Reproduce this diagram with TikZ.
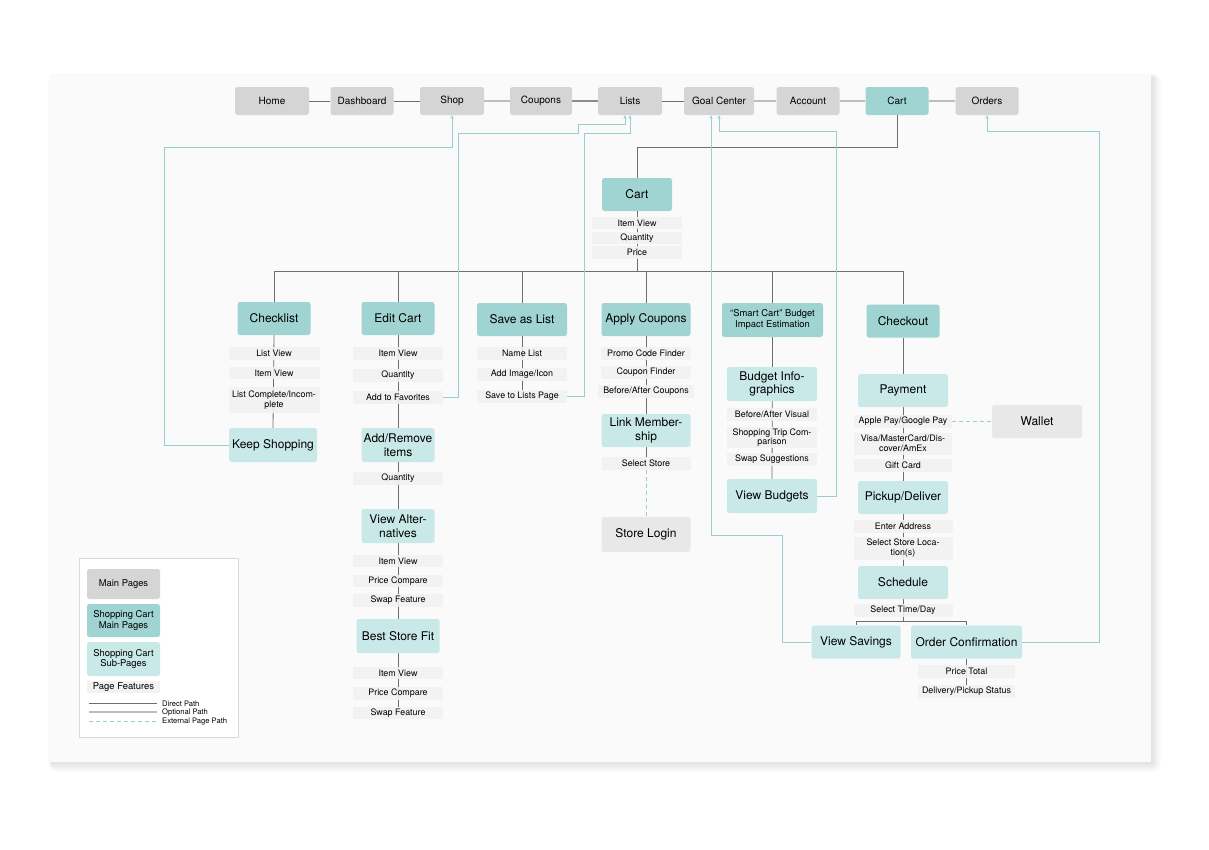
\documentclass[tikz,border=0pt]{standalone}
\usepackage{fontspec}
\setmainfont{TeX Gyre Heros}
\usetikzlibrary{arrows.meta}
\definecolor{tealA}{HTML}{9FD4D2}
\definecolor{tealB}{HTML}{C8E9E8}
\definecolor{navgray}{HTML}{D5D5D5}
\definecolor{extgray}{HTML}{E8E8E8}
\definecolor{featgray}{HTML}{F1F1F1}
\definecolor{dirc}{HTML}{6E6E6E}
\definecolor{optc}{HTML}{BDBDBD}
\definecolor{linkc}{HTML}{98CECE}
\definecolor{cardc}{HTML}{FAFAFA}
\newcommand\fnav{\fontsize{10}{11}\selectfont}
\newcommand\fmainpg{\fontsize{12}{13.5}\selectfont}
\newcommand\ffeat{\fontsize{8.9}{9.6}\selectfont}
\newcommand\fsmallpg{\fontsize{9.4}{11}\selectfont}
\newcommand\flegend{\fontsize{9.4}{10.5}\selectfont}
\newcommand\ftinylbl{\fontsize{7.6}{8}\selectfont}
\pgfdeclarelayer{background}
\pgfsetlayers{background,main}
\tikzset{
  pgbox/.style={rounded corners=2.5pt, inner sep=1pt, align=center},
  nav/.style={pgbox, fill=navgray, minimum height=28, font=\fnav},
  navcartbox/.style={pgbox, fill=tealA, minimum height=28, font=\fnav},
  mainpg/.style={pgbox, fill=tealA, font=\fmainpg},
  subpg/.style={pgbox, fill=tealB, font=\fmainpg},
  extpg/.style={pgbox, fill=extgray, font=\fmainpg},
  feat/.style={fill=featgray, fill opacity=0.88, text opacity=1, inner sep=0.5pt, align=center, font=\ffeat, minimum height=12.5},
  direct/.style={draw=dirc, line width=0.8pt},
  optional/.style={draw=optc, line width=1.6pt},
  extlink/.style={draw=linkc, line width=0.8pt, -{Stealth[length=3.6pt,width=3pt]}},
  extdash/.style={draw=linkc, line width=0.8pt, dash pattern=on 4pt off 3pt},
}
\begin{document}
\begin{tikzpicture}[x=1pt,y=-1pt]
\useasboundingbox (0,0) rectangle (1209,849);
% ---------- nav bar ----------
\node[nav, minimum width=74] (home) at (272,101) {Home};
\node[nav, minimum width=63] (dash) at (362,101) {Dashboard};
\node[nav, minimum width=64] (shop) at (452,101) {Shop};
\node[nav, minimum width=62] (coupons) at (541,101) {Coupons};
\node[nav, minimum width=64] (lists) at (630,101) {Lists};
\node[nav, minimum width=70] (goal) at (719,101) {Goal Center};
\node[nav, minimum width=63] (account) at (808,101) {Account};
\node[navcartbox, minimum width=63] (navcart) at (897,101) {Cart};
\node[nav, minimum width=63] (orders) at (987,101) {Orders};
% ---------- cart ----------
\node[mainpg, minimum width=70, minimum height=33] (cart) at (637,194.5) {Cart};
\node[feat, minimum width=90] (cf1) at (637,223) {Item View};
\node[feat, minimum width=90] (cf2) at (637,238) {Quantity};
\node[feat, minimum width=90] (cf3) at (637,252.5) {Price};
% ---------- checklist ----------
\node[mainpg, minimum width=73, minimum height=33] (checklist) at (274,318.5) {Checklist};
\node[feat, minimum width=91] (cl1) at (274,353.5) {List View};
\node[feat, minimum width=91] (cl2) at (274,373) {Item View};
\node[feat, minimum width=91, minimum height=26] (cl3) at (274,400) {List Complete/Incom-\\plete};
\node[subpg, minimum width=88, minimum height=34] (keepshop) at (273,445) {Keep Shopping};
% ---------- edit cart ----------
\node[mainpg, minimum width=73, minimum height=33] (editcart) at (398,318.5) {Edit Cart};
\node[feat, minimum width=90] (ec1) at (398,353.5) {Item View};
\node[feat, minimum width=90] (ec2) at (398,375.5) {Quantity};
\node[feat, minimum width=90] (ec3) at (398,397.5) {Add to Favorites};
\node[subpg, minimum width=73, minimum height=34] (addrem) at (398,445) {Add/Remove\\items};
\node[feat, minimum width=90] (ec4) at (398,478.5) {Quantity};
\node[subpg, minimum width=73, minimum height=34] (viewalt) at (398,526) {View Alter-\\natives};
\node[feat, minimum width=90] (va1) at (398,561) {Item View};
\node[feat, minimum width=90] (va2) at (398,581) {Price Compare};
\node[feat, minimum width=90] (va3) at (398,600.5) {Swap Feature};
\node[subpg, minimum width=83, minimum height=34] (bestfit) at (398,636) {Best Store Fit};
\node[feat, minimum width=90] (bf1) at (398,673) {Item View};
\node[feat, minimum width=90] (bf2) at (398,693.5) {Price Compare};
\node[feat, minimum width=90] (bf3) at (398,713) {Swap Feature};
% ---------- save as list ----------
\node[mainpg, minimum width=90, minimum height=33] (saveas) at (522,319.5) {Save as List};
\node[feat, minimum width=90] (sl1) at (522,353.5) {Name List};
\node[feat, minimum width=90] (sl2) at (522,374.5) {Add Image/Icon};
\node[feat, minimum width=90] (sl3) at (522,396.5) {Save to Lists Page};
% ---------- apply coupons ----------
\node[mainpg, minimum width=89, minimum height=33] (applyc) at (646,319.5) {Apply Coupons};
\node[feat, minimum width=90] (ac1) at (646,353.5) {Promo Code Finder};
\node[feat, minimum width=90] (ac2) at (646,372.5) {Coupon Finder};
\node[feat, minimum width=96] (ac3) at (646,391.5) {Before/After Coupons};
\node[subpg, minimum width=89, minimum height=33] (linkm) at (646,430.5) {Link Member-\\ship};
\node[feat, minimum width=89] (ac4) at (646,463.5) {Select Store};
\node[extpg, minimum width=89, minimum height=35] (storelogin) at (646,534.5) {Store Login};
% ---------- smart cart ----------
\node[mainpg, minimum width=101, minimum height=34, font=\fsmallpg] (smart) at (772.5,320) {“Smart Cart” Budget\\Impact Estimation};
\node[subpg, minimum width=90, minimum height=34] (budinf) at (772,384) {Budget Info-\\graphics};
\node[feat, minimum width=90] (sc1) at (772,414.5) {Before/After Visual};
\node[feat, minimum width=90, minimum height=21] (sc2) at (772,437.5) {Shopping Trip Com-\\parison};
\node[feat, minimum width=90] (sc3) at (772,459.5) {Swap Suggestions};
\node[subpg, minimum width=90, minimum height=34] (viewbud) at (772,496) {View Budgets};
% ---------- checkout ----------
\node[mainpg, minimum width=73, minimum height=33] (checkout) at (903,321) {Checkout};
\node[subpg, minimum width=90, minimum height=33] (payment) at (903,390.5) {Payment};
\node[feat, minimum width=98] (pf1) at (903,421.5) {Apple Pay/Google Pay};
\node[feat, minimum width=98, minimum height=22] (pf2) at (903,443.5) {Visa/MasterCard/Dis-\\cover/AmEx};
\node[feat, minimum width=98] (pf3) at (903,465.5) {Gift Card};
\node[extpg, minimum width=90, minimum height=33] (wallet) at (1037,421.5) {Wallet};
\node[subpg, minimum width=90, minimum height=33] (pickup) at (903,497.5) {Pickup/Deliver};
\node[feat, minimum width=99] (pk1) at (903,526.5) {Enter Address};
\node[feat, minimum width=99, minimum height=23] (pk2) at (903,548) {Select Store Loca-\\tion(s)};
\node[subpg, minimum width=90, minimum height=33] (schedule) at (903,582.5) {Schedule};
\node[feat, minimum width=99] (sh1) at (903,610.5) {Select Time/Day};
\node[subpg, minimum width=89, minimum height=33] (viewsav) at (856,642) {View Savings};
\node[subpg, minimum width=111, minimum height=33] (ordconf) at (966.5,642) {Order Confirmation};
\node[feat, minimum width=97] (oc1) at (966.5,671.5) {Price Total};
\node[feat, minimum width=97] (oc2) at (966.5,691.5) {Delivery/Pickup Status};
% ---------- legend ----------
\node[draw=black!15, fill=white, line width=0.6pt, minimum width=159, minimum height=179, inner sep=0] (legendbox) at (158.5,647.5) {};
\node[nav, minimum width=73, minimum height=30, font=\flegend] (lg1) at (123.5,584) {Main Pages};
\node[mainpg, minimum width=73, minimum height=33, font=\flegend] (lg2) at (123.5,620.5) {Shopping Cart\\Main Pages};
\node[subpg, minimum width=73, minimum height=34, font=\flegend] (lg3) at (123.5,659) {Shopping Cart\\Sub-Pages};
\node[feat, minimum width=73, minimum height=12, font=\flegend] (lg4) at (123.5,687) {Page Features};
\coordinate (ld1) at (89,703); \coordinate (ld2) at (157,703);
\coordinate (lo1) at (89,712); \coordinate (lo2) at (157,712);
\coordinate (le1) at (89,721); \coordinate (le2) at (157,721);
\node[anchor=west, inner sep=0, font=\ftinylbl] (lt1) at (162,703.5) {Direct Path};
\node[anchor=west, inner sep=0, font=\ftinylbl] (lt2) at (162,712.5) {Optional Path};
\node[anchor=west, inner sep=0, font=\ftinylbl] (lt3) at (162,721.5) {External Page Path};
\draw[direct] (ld1) -- (ld2);
\draw[optional] (lo1) -- (lo2);
\draw[extdash] (le1) -- (le2);
% ---------- background: card and connectors ----------
\begin{pgfonlayer}{background}
  \foreach \i in {1,...,9}{
    \fill[black, opacity=0.012, rounded corners=\i pt] (52-0.4*\i,77-0.4*\i) rectangle (1152+\i,763+\i);
  }
  \fill[cardc] (50,74) rectangle (1151,762);
  % nav chain
  \draw[direct] (home) -- (dash);
  \draw[direct] (dash) -- (shop);
  \draw[optional] (shop) -- (coupons);
  \draw[draw=black!45, line width=1.1pt] (coupons) -- (lists);
  \draw[direct] (lists) -- (goal);
  \draw[optional] (goal) -- (account);
  \draw[optional] (account) -- (navcart);
  \draw[optional] (navcart) -- (orders);
  % main tree
  \draw[direct] (navcart.south) -- ++(0,32) -| (cart.north);
  \coordinate (bus) at (637,271);
  \draw[direct] (cart.south) -- (bus);
  \draw[direct] (bus) -| (checklist.north);
  \draw[direct] (bus) -| (editcart.north);
  \draw[direct] (bus) -| (saveas.north);
  \draw[direct] (bus) -| (applyc.north);
  \draw[direct] (bus) -| (smart.north);
  \draw[direct] (bus) -| (checkout.north);
  \draw[direct] (checklist.south) -- (keepshop.north);
  \draw[direct] (editcart.south) -- (bf3.north);
  \draw[direct] (saveas.south) -- (sl3.north);
  \draw[direct] (applyc.south) -- (ac4.north);
  \draw[extdash] (ac4.south) -- (storelogin.north);
  \draw[direct] (smart.south) -- (viewbud.north);
  \draw[direct] (checkout.south) -- (sh1.south);
  \coordinate (tj) at (903,621);
  \draw[direct] (sh1.south) -- (tj);
  \draw[direct] (tj) -| (viewsav.north);
  \draw[direct] (tj) -| (ordconf.north);
  \draw[direct] (ordconf.south) -- (oc2.north);
  \draw[extdash] (pf1.east) -- (wallet.west);
  % external page links
  \draw[extlink] (keepshop.west) -| (164,147) -| (shop.south);
  \draw[extlink] (ec3.east) -| (458,133) -| (578,124) -| ([xshift=-5pt]lists.south);
  \draw[extlink] (sl3.east) -| (584,133) -| (lists.south);
  \draw[extlink] (viewbud.east) -| (836,131) -| (goal.south);
  \draw[extlink] (viewsav.west) -| (782,535) -| ([xshift=-8pt]goal.south);
  \draw[extlink] (ordconf.east) -| (1099,131) -| (orders.south);
\end{pgfonlayer}
\end{tikzpicture}
\end{document}
